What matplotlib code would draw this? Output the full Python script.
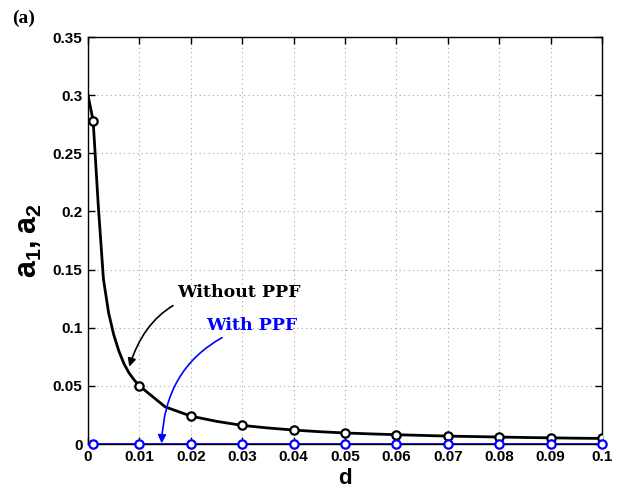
import numpy as np
import matplotlib
matplotlib.use("Agg")
import matplotlib.pyplot as plt
from matplotlib.ticker import FixedLocator

plt.rcParams["mathtext.fontset"] = "custom"
plt.rcParams["mathtext.bf"] = "Liberation Sans:bold"
plt.rcParams["mathtext.rm"] = "Liberation Sans:bold"

# coefficient curve without the filter (dense line)
d_line = [0, 0.001, 0.002, 0.003, 0.004, 0.005, 0.006, 0.007, 0.008, 0.009,
          0.01, 0.015, 0.02, 0.025, 0.03, 0.035, 0.04, 0.045, 0.05, 0.055,
          0.06, 0.065, 0.07, 0.075, 0.08, 0.085, 0.09, 0.095, 0.1]
a_line = [0.3, 0.278, 0.205, 0.142, 0.113, 0.094, 0.080, 0.069, 0.061, 0.055,
          0.05, 0.032, 0.024, 0.0195, 0.016, 0.0138, 0.012, 0.0106, 0.0095, 0.0087,
          0.008, 0.0074, 0.0068, 0.0064, 0.006, 0.0056, 0.0053, 0.005, 0.0048]

# sampled points (markers)
d_pts = [0.001, 0.01, 0.02, 0.03, 0.04, 0.05, 0.06, 0.07, 0.08, 0.09, 0.1]
a_without = [0.278, 0.05, 0.024, 0.016, 0.012, 0.0095, 0.008, 0.0068, 0.006, 0.0053, 0.0048]
a_with = [0, 0, 0, 0, 0, 0, 0, 0, 0, 0, 0]

xticks = [0, 0.01, 0.02, 0.03, 0.04, 0.05, 0.06, 0.07, 0.08, 0.09, 0.1]
xticklabels = ["0", "0.01", "0.02", "0.03", "0.04", "0.05", "0.06", "0.07", "0.08", "0.09", "0.1"]
yticks = [0, 0.05, 0.1, 0.15, 0.2, 0.25, 0.3, 0.35]
yticklabels = ["0", "0.05", "0.1", "0.15", "0.2", "0.25", "0.3", "0.35"]

fig = plt.figure(figsize=(6.25, 4.94), dpi=100)
ax = fig.add_axes([0.1408, 0.1012, 0.8224, 0.8238])

ax.plot(d_line, a_line, color="k", lw=2, zorder=3)
ax.plot(d_pts, a_without, ls="none", marker="o", ms=6, mew=1.6,
        mfc="white", mec="k", zorder=4)
ax.plot([0] + d_pts, [0] + a_with, color=(0, 0, 1), lw=2, zorder=3)
ax.plot(d_pts, a_with, ls="none", marker="o", ms=6, mew=1.6,
        mfc="white", mec=(0, 0, 1), zorder=4, clip_on=False)

ax.set_xlim(0, 0.1)
ax.set_ylim(0, 0.35)
ax.xaxis.set_major_locator(FixedLocator(xticks))
ax.yaxis.set_major_locator(FixedLocator(yticks))
ax.set_xticklabels(xticklabels, fontsize=11, fontweight="bold", family="Liberation Sans")
ax.set_yticklabels(yticklabels, fontsize=11, fontweight="bold", family="Liberation Sans")
ax.tick_params(direction="in", length=5, width=1, top=True, right=True, pad=4)
ax.grid(True, ls=(0, (1, 3)), color="0.65", lw=0.8)
for s in ax.spines.values():
    s.set_linewidth(1)

ax.set_xlabel("d", fontsize=16, fontweight="bold", family="Liberation Sans", labelpad=3)
ax.set_ylabel(r"$\mathbf{a_1, a_2}$", fontsize=22, labelpad=6)

ax.annotate("Without PPF", xy=(0.00803, 0.0665), xytext=(0.02938, 0.1299),
            fontsize=12.5, fontweight="bold", family="DejaVu Serif", color="k",
            ha="center", va="center",
            arrowprops=dict(arrowstyle="-|>", color="k", lw=1.2,
                            connectionstyle="arc3,rad=0.4",
                            shrinkA=2, shrinkB=0, mutation_scale=12))
ax.annotate("With PPF", xy=(0.01433, 0.0006), xytext=(0.0318, 0.1023),
            fontsize=12.5, fontweight="bold", family="DejaVu Serif", color=(0, 0, 1),
            ha="center", va="center",
            arrowprops=dict(arrowstyle="-|>", color=(0, 0, 1), lw=1.2,
                            connectionstyle="arc3,rad=0.35",
                            shrinkA=2, shrinkB=0, mutation_scale=12))

fig.text(0.019, 0.963, "(a)", fontsize=14, fontweight="bold", family="Liberation Serif",
         va="center", ha="left")

fig.savefig("out.png", dpi=100)
